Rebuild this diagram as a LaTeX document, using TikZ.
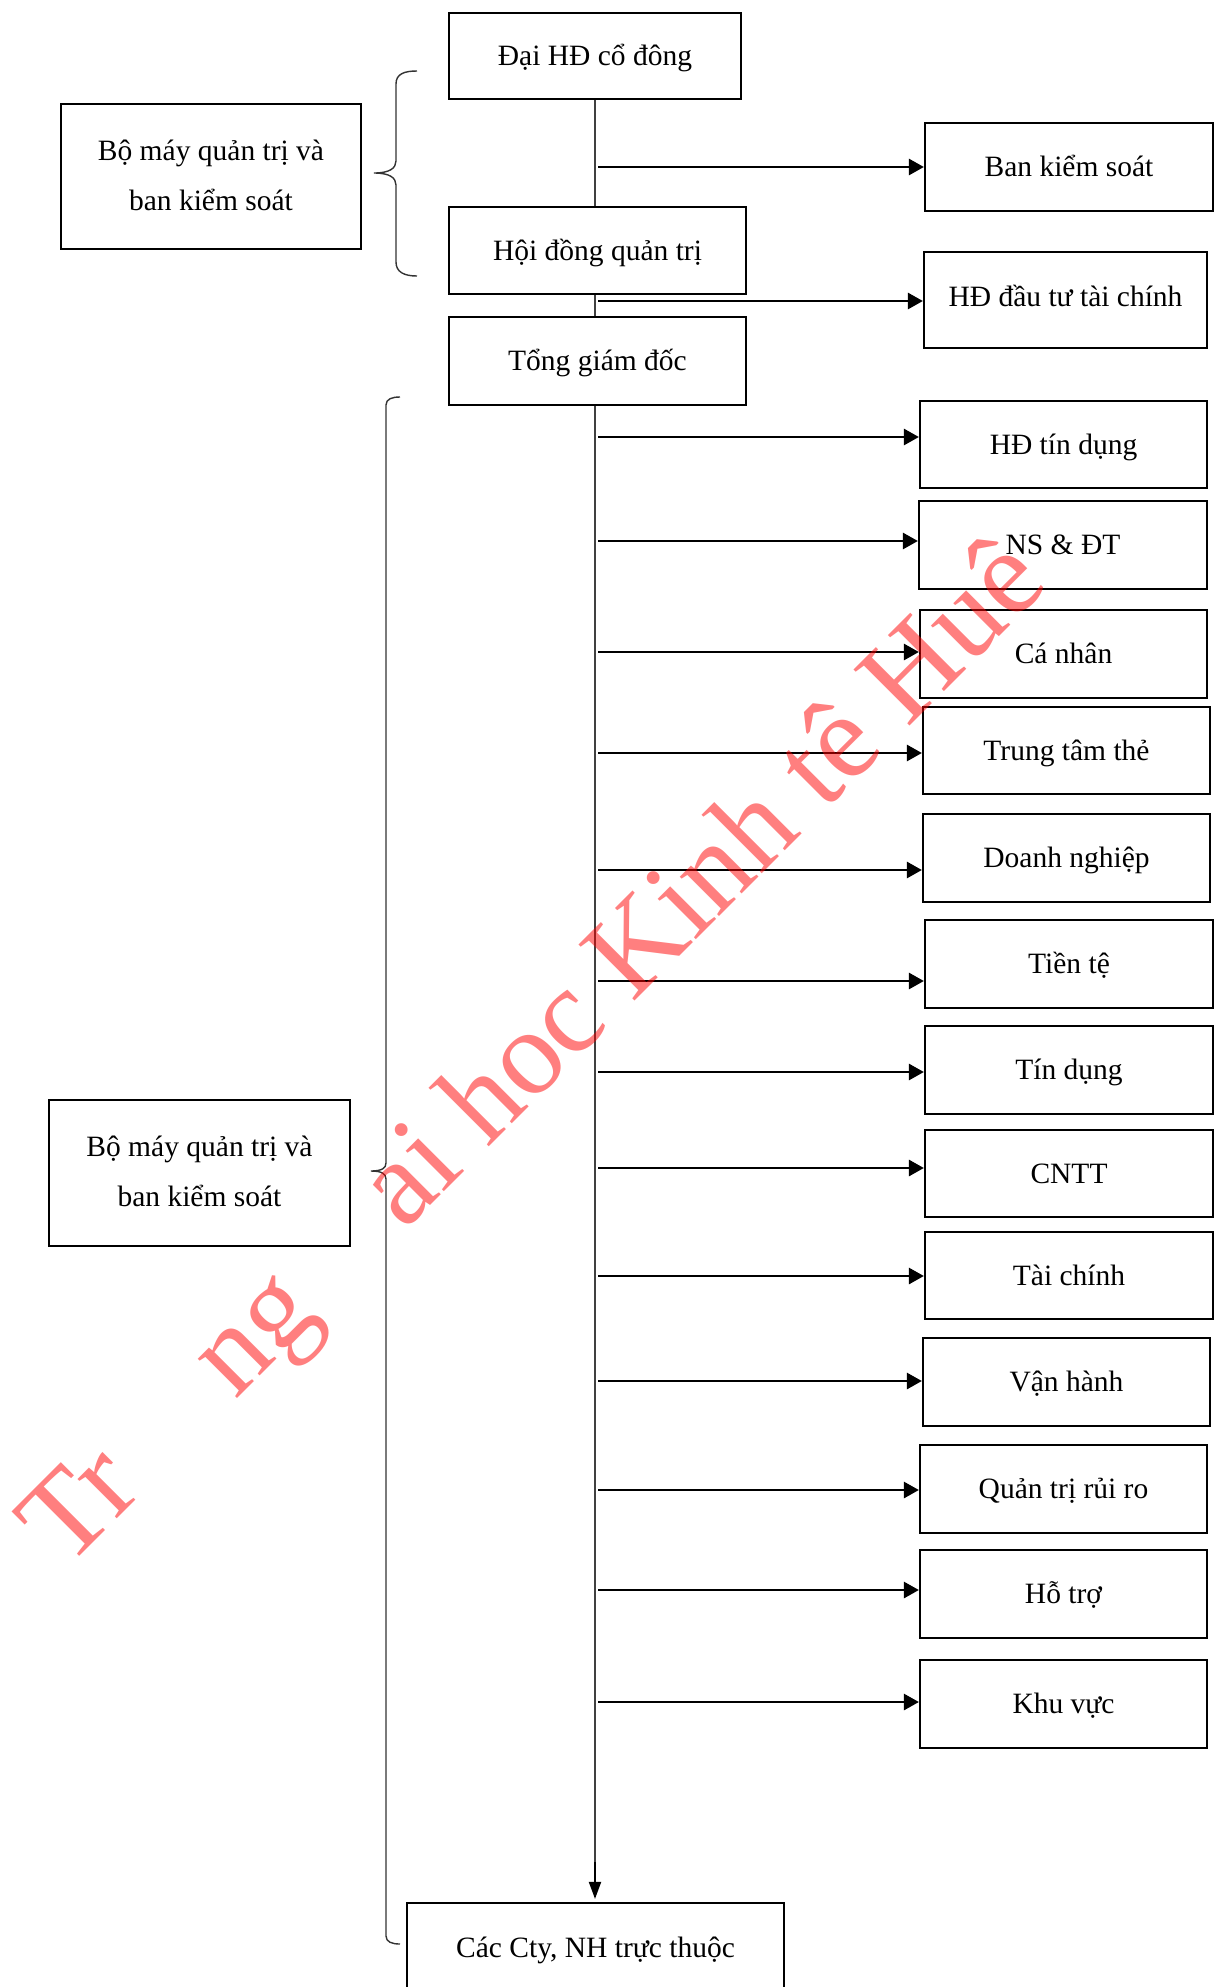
\documentclass[tikz,border=0pt]{standalone}
\usepackage{fontspec}
\setmainfont{Liberation Serif}
\usetikzlibrary{arrows.meta}
\tikzset{
  box/.style={draw=black, line width=2.2pt, fill=white, inner sep=0pt,
    font=\fontsize{29.5}{36}\selectfont, text height=21pt, text depth=1.5pt},
  twobox/.style={draw=black, line width=2.2pt, fill=white, inner sep=0pt,
    align=center, font=\fontsize{29.5}{50}\selectfont},
  vline/.style={draw=black!75, line width=1.2pt},
  harrow/.style={draw=black, line width=2.7pt, -{Triangle[length=15pt,width=16pt]}},
  darrow/.style={draw=black, line width=2pt, -{Triangle[length=17pt,width=12pt]}},
  bracepath/.style={draw=black!80, line width=1.4pt},
  watermark/.style={text=red, text opacity=0.5, inner sep=0pt,
    font=\fontsize{121}{123}\selectfont}
}
\begin{document}
\begin{tikzpicture}[x=1pt,y=-1pt]
\useasboundingbox (0,0) rectangle (1219,1987);
\fill[white] (0,0) rectangle (1219,1987);

% central column
\node[box, minimum width=292pt, minimum height=86pt] (dai) at (595,56) {Đại HĐ cổ đông};
\node[box, minimum width=297pt, minimum height=87pt] (hdqt) at (597.5,250.5) {Hội đồng quản trị};
\node[box, minimum width=297pt, minimum height=88pt] (tgd) at (597.5,361) {Tổng giám đốc};
\node[box, minimum width=377pt, minimum height=90pt] (cty) at (595.5,1948) {Các Cty, NH trực thuộc};

% left boxes
\node[twobox, minimum width=300pt, minimum height=145pt] (bm1) at (211,176.5) {\raisebox{3pt}{Bộ máy quản trị và}\\\raisebox{3pt}{ban kiểm soát}};
\node[twobox, minimum width=301pt, minimum height=146pt] (bm2) at (199.5,1173) {\raisebox{3pt}{Bộ máy quản trị và}\\\raisebox{3pt}{ban kiểm soát}};

% right boxes
\node[box, minimum width=288pt, minimum height=88pt] (r1) at (1069,167) {Ban kiểm soát};
\node[box, minimum width=283pt, minimum height=96pt] (r2) at (1065.5,300) {\raisebox{3pt}{HĐ đầu tư tài chính}};
\node[box, minimum width=287pt, minimum height=87pt] (r3) at (1063.5,444.5) {HĐ tín dụng};
\node[box, minimum width=288pt, minimum height=88pt] (r4) at (1063,545) {NS \& ĐT};
\node[box, minimum width=287pt, minimum height=88pt] (r5) at (1063.5,654) {Cá nhân};
\node[box, minimum width=287pt, minimum height=87pt] (r6) at (1066.5,750.5) {Trung tâm thẻ};
\node[box, minimum width=287pt, minimum height=88pt] (r7) at (1066.5,858) {Doanh nghiệp};
\node[box, minimum width=288pt, minimum height=88pt] (r8) at (1069,964) {Tiền tệ};
\node[box, minimum width=288pt, minimum height=88pt] (r9) at (1069,1070) {Tín dụng};
\node[box, minimum width=288pt, minimum height=87pt] (r10) at (1069,1173.5) {CNTT};
\node[box, minimum width=288pt, minimum height=87pt] (r11) at (1069,1275.5) {Tài chính};
\node[box, minimum width=287pt, minimum height=88pt] (r12) at (1066.5,1382) {Vận hành};
\node[box, minimum width=287pt, minimum height=88pt] (r13) at (1063.5,1489) {Quản trị rủi ro};
\node[box, minimum width=287pt, minimum height=88pt] (r14) at (1063.5,1594) {Hỗ trợ};
\node[box, minimum width=287pt, minimum height=88pt] (r15) at (1063.5,1704) {Khu vực};

% main vertical line
\coordinate (vbot) at (595,1862);
\draw[vline] (dai.south) -- (dai.south |- hdqt.north);
\draw[vline] (dai.south |- hdqt.south) -- (dai.south |- tgd.north);
\draw[vline] (dai.south |- tgd.south) -- (vbot);
\draw[darrow, shorten >=3pt] (vbot) -- (vbot |- cty.north);

% horizontal arrows
\foreach \i/\yy in {1/167,2/301,3/437,4/541,5/652,6/753,7/870,8/981,9/1072,10/1168,11/1276,12/1381,13/1490,14/1590,15/1702}{
  \coordinate (s\i) at (598,\yy);
  \draw[harrow] (s\i) -- (s\i -| r\i.west);
}

% braces
\draw[bracepath] (417,71) .. controls (404,71) and (396,74) .. (396,84)
  -- (396,161) .. controls (396,168) and (390,173) .. (374,173)
  .. controls (390,173) and (396,178) .. (396,185)
  -- (396,262) .. controls (396,272) and (404,276) .. (417,276);
\draw[bracepath] (400,397) .. controls (392,397) and (386,399) .. (386,405)
  -- (386,1163) .. controls (386,1168) and (382,1171) .. (371,1171)
  .. controls (382,1171) and (386,1174) .. (386,1179)
  -- (386,1936) .. controls (386,1942) and (392,1944) .. (400,1944);

% watermark
\node[watermark, anchor=base west, rotate=45] (wm) at (66,1570) {Tr\phantom{ườ}ng \phantom{Đ}ai hoc Kinh tê Huê};
\end{tikzpicture}
\end{document}
